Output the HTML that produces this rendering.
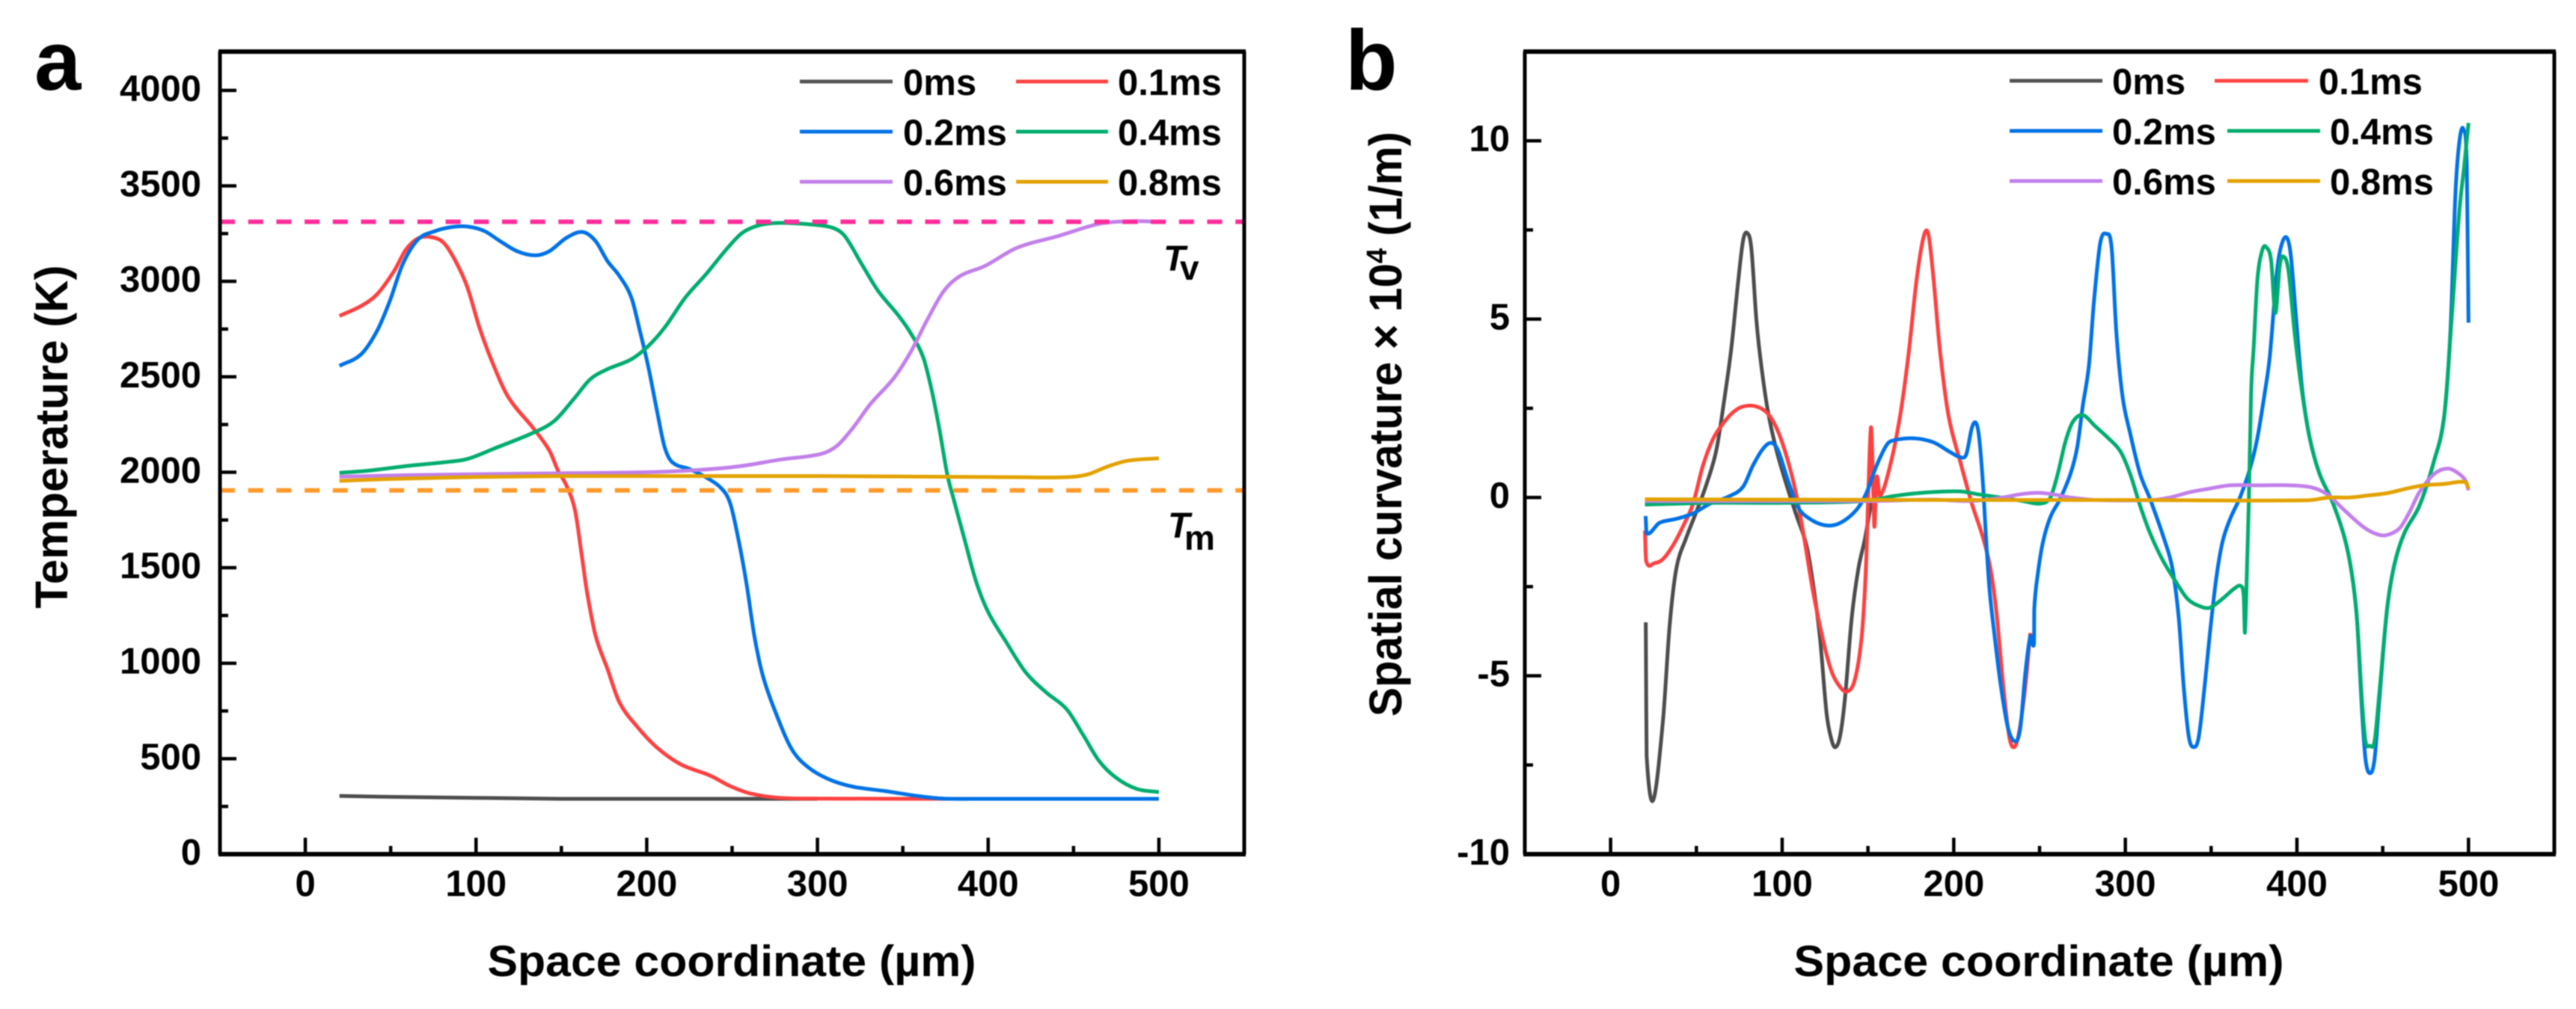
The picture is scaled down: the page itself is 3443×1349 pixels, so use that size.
<!DOCTYPE html>
<html lang="en">
<head>
<meta charset="utf-8">
<title>Temperature and spatial curvature profiles</title>
<style>
  html, body { margin: 0; padding: 0; background: #fff; }
  #figure { display: block; width: 3443px; height: 1349px; filter: blur(0.8px); }
  text { font-family: "Liberation Sans", sans-serif; font-weight: 700; fill: #000; }
</style>
</head>
<body>
<svg id="figure" xmlns="http://www.w3.org/2000/svg" width="3443" height="1349" viewBox="0 0 3443 1349">
  <rect x="0" y="0" width="3443" height="1349" fill="#fff"/>

  <text x="46" y="120" font-size="112">a</text>
  <text x="1798" y="120" font-size="114">b</text>

  <g id="panel-a"></g>
  <g id="panel-b"></g>

  <text x="978" y="1305" font-size="58" text-anchor="middle" textLength="653" lengthAdjust="spacingAndGlyphs">Space coordinate (µm)</text>
  <text x="2725" y="1305" font-size="58" text-anchor="middle" textLength="655" lengthAdjust="spacingAndGlyphs">Space coordinate (µm)</text>
  <text transform="translate(90,584) rotate(-90)" font-size="61" text-anchor="middle" textLength="459" lengthAdjust="spacingAndGlyphs">Temperature (K)</text>
  <text transform="translate(1873,567) rotate(-90)" font-size="61" text-anchor="middle" textLength="782" lengthAdjust="spacingAndGlyphs">Spatial curvature × 10<tspan font-size="38" dy="-20">4</tspan><tspan dy="20"> (1/m)</tspan></text>

  <g font-size="49">
    <line x1="1069" x2="1193" y1="109" y2="109" stroke="#555" stroke-width="5"/>
    <text x="1207" y="127">0ms</text>
    <line x1="1358" x2="1481" y1="109" y2="109" stroke="#ff4545" stroke-width="5"/>
    <text x="1494" y="127">0.1ms</text>
    <line x1="1069" x2="1193" y1="176" y2="176" stroke="#0072e6" stroke-width="5"/>
    <text x="1207" y="194">0.2ms</text>
    <line x1="1358" x2="1481" y1="176" y2="176" stroke="#00ad6e" stroke-width="5"/>
    <text x="1494" y="194">0.4ms</text>
    <line x1="1069" x2="1193" y1="243" y2="243" stroke="#c280ea" stroke-width="5"/>
    <text x="1207" y="261">0.6ms</text>
    <line x1="1358" x2="1481" y1="243" y2="243" stroke="#e3a200" stroke-width="5"/>
    <text x="1494" y="261">0.8ms</text>
  </g>

  <g font-size="49">
    <line x1="2686" x2="2810" y1="108" y2="108" stroke="#555" stroke-width="5"/>
    <text x="2823" y="126">0ms</text>
    <line x1="2960" x2="3085" y1="108" y2="108" stroke="#ff4545" stroke-width="5"/>
    <text x="3099" y="126">0.1ms</text>
    <line x1="2686" x2="2810" y1="175" y2="175" stroke="#0072e6" stroke-width="5"/>
    <text x="2823" y="193">0.2ms</text>
    <line x1="2977" x2="3101" y1="175" y2="175" stroke="#00ad6e" stroke-width="5"/>
    <text x="3114" y="193">0.4ms</text>
    <line x1="2686" x2="2810" y1="242" y2="242" stroke="#c280ea" stroke-width="5"/>
    <text x="2823" y="260">0.6ms</text>
    <line x1="2977" x2="3101" y1="242" y2="242" stroke="#e3a200" stroke-width="5"/>
    <text x="3114" y="260">0.8ms</text>
  </g>

  <g>
    <text x="1555" y="362" font-size="48" font-style="italic">T</text>
    <text x="1577" y="374" font-size="46">v</text>
  </g>
  <g>
    <text x="1561" y="719" font-size="48" font-style="italic">T</text>
    <text x="1583" y="735" font-size="46">m</text>
  </g>
</svg>

<script>
const xTickLabels = [0, 100, 200, 300, 400, 500];
const xMinorTicks = [50, 150, 250, 350, 450];
const tempTickLabels = [0, 500, 1000, 1500, 2000, 2500, 3000, 3500, 4000];
const tempMinorTicks = [250, 750, 1250, 1750, 2250, 2750, 3250, 3750];
const curvTickLabels = [-10, -5, 0, 5, 10];
const curvMinorTicks = [-7.5, -2.5, 2.5, 7.5];
const vaporizationTemp = 3312;
const meltingTemp = 1905;

const seriesNames = ["0ms", "0.1ms", "0.2ms", "0.4ms", "0.6ms", "0.8ms"];
const seriesColors = ["#4d4d4d", "#ff4040", "#0072e6", "#00ad6e", "#c280ea", "#e3a200"];

/* Panel a: [space coordinate, temperature] */
const temp0ms = [[20,305],[50,300],[100,295],[150,290],[200,290],[300,290]];
const temp01ms = [[20,2819],[32.7,2871],[42,2932],[52,3054],[59,3167],[66,3225],[73.5,3232],[81,3202],[88,3106],[95,2967],[102,2758],[110,2566],[119,2392],[134,2226],[143,2113],[148,2009],[153,1930],[158,1800],[162,1560],[165,1373],[170,1145],[177,970],[184,795],[194,672],[206,558],[220,470],[237,412],[249,356],[261,317],[278,295],[302,291],[350,290],[393,290]];
const temp02ms = [[20,2557],[32.7,2618],[42,2740],[49.5,2897],[57,3089],[66,3219],[76,3263],[85.6,3284],[95,3287],[105,3263],[114,3211],[124,3158],[134.6,3136],[143,3158],[153,3228],[162.5,3258],[170,3211],[177,3106],[184,3028],[191,2915],[196,2740],[201,2549],[206,2322],[210.5,2131],[215,2052],[225,2017],[234.6,1974],[244,1913],[249,1834],[254,1636],[258.6,1408],[263,1145],[268,935],[275.5,742],[285,549],[295,452],[307,391],[321,353],[340,330],[360,303],[374,291],[398,290],[450,290],[500,290]];
const temp04ms = [[20,1997],[37.5,2009],[61.5,2035],[81,2052],[95,2070],[110,2122],[134,2209],[146,2270],[158,2392],[167,2488],[177,2540],[191,2592],[201,2662],[210.5,2758],[222.6,2915],[234.6,3036],[246.6,3167],[256,3254],[266,3294],[278,3306],[297,3297],[309,3280],[316,3237],[326,3089],[335.6,2949],[347.6,2819],[355,2723],[362,2601],[367,2427],[371.6,2218],[376,1991],[380,1852],[386,1654],[393,1426],[400,1268],[410,1119],[422,952],[434,847],[446,759],[456,619],[465,488],[475,400],[487,342],[500,325]];
const temp06ms = [[20,1977],[60,1985],[100,1990],[150,1995],[200,2000],[230,2012],[254,2031],[278,2066],[302,2096],[311.5,2139],[321,2235],[331,2357],[345,2496],[355,2636],[364,2793],[374,2949],[383.6,3028],[398,3080],[417,3176],[441,3237],[465,3301],[484.6,3315],[500,3312]];
const temp08ms = [[20,1955],[50,1965],[100,1975],[150,1980],[300,1980],[400,1975],[417,1974],[446,1974],[458,1988],[470,2030],[482,2061],[500,2073]];

/* Panel b: [space coordinate, curvature x 10^4] */
const curv0ms = [[20.5,-3.5],[20.7,-5.2],[21,-7.24],[24.8,-8.49],[30.5,-6.27],[34.4,-3.6],[38.3,-2],[44,-1.14],[50,-0.4],[55.8,0.36],[61.6,1.32],[66.5,2.82],[70.4,4.2],[74.3,6.03],[77.2,7.2],[79.5,7.42],[82,7],[85,4.96],[87.9,3.67],[91.8,2.39],[96.7,1.32],[102.5,0.36],[108.3,-0.5],[114.2,-1.35],[118,-2.42],[122,-3.92],[125.9,-6.06],[128.8,-6.8],[131,-7],[133.7,-6.7],[136.6,-5.63],[140.5,-3.39],[144.4,-2],[148.3,-1.14],[152,-0.1]];
const curv01ms = [[20,-0.93],[20.7,-1.78],[25.6,-1.84],[30.5,-1.73],[36.3,-1.35],[42.1,-0.82],[48,-0.18],[53.8,0.89],[59.7,1.64],[65.5,2.07],[71.4,2.39],[77.2,2.55],[85,2.55],[91.8,2.34],[97.6,1.85],[103.5,1],[108.4,0.04],[113.2,-1.25],[118,-2.64],[124,-4.03],[128.8,-4.88],[133.7,-5.31],[138,-5.44],[142.4,-5.1],[146.3,-3.92],[148.8,-2],[150.2,0.14],[151.7,1.96],[152.7,0.9],[153.7,-0.82],[155,0.57],[157,0.04],[162.9,0.89],[168.7,2.28],[173.6,4],[178.4,6.13],[182.7,7.36],[185.3,7.36],[188.2,6.13],[192,4.1],[197,2.28],[203.8,1],[210.6,-0.18],[217,-1.12],[221.4,-2],[225,-3.28],[228.7,-5.2],[232.3,-6.7],[235.2,-7],[238,-6.6],[241.7,-5.3],[244.6,-3.8]];
const curv02ms = [[20.4,-0.52],[21,-1.01],[28.5,-0.71],[38.3,-0.6],[48,-0.45],[57.7,-0.18],[69.4,0.04],[77.2,0.3],[83,0.9],[88.9,1.37],[93.7,1.53],[97.6,1.32],[103.5,0.46],[109.3,-0.28],[116.1,-0.6],[123.9,-0.77],[130.7,-0.77],[137.6,-0.6],[144.4,-0.28],[149.2,0.14],[155,0.89],[161,1.48],[164.8,1.6],[176.5,1.66],[188,1.55],[198,1.27],[203.8,1.13],[207.3,1.21],[210.6,1.96],[213,2.09],[214.8,1.68],[217,0.4],[218.5,-0.87],[220.7,-2.5],[223.6,-3.8],[227.2,-5.2],[231.6,-6.46],[236,-6.84],[238.8,-6.46],[241.7,-4.93],[244.6,-3.9],[246.8,-4.1],[246.9,-3.15],[249,-2.14],[252,-1.25],[256.3,-0.55],[262,-0.04],[268,0.66],[272,1.42],[275.2,2.57],[278.8,3.71],[281.7,5.49],[285.4,7.14],[289,7.39],[292,7],[294.8,4.6],[298.4,2.82],[302.8,1.8],[308.6,0.66],[314.4,-0.04],[323.2,-1.25],[327.5,-2.01],[331.2,-3.41],[334,-5.3],[337,-6.71],[339.9,-7],[342.8,-6.71],[346.4,-5.2],[349.3,-3.8],[353,-2.26],[356.6,-1.25],[361,-0.61],[366.8,0],[372.6,0.8],[377,1.68],[381.3,2.95],[384.2,3.96],[388.5,6.4],[391.4,7.14],[394.3,7.27],[396.5,6.76],[399.4,5.1],[403,3.07],[407.4,1.68],[413.2,0.66],[420.5,-0.1],[427.7,-1.12],[432,-2.14],[435,-3.41],[437.9,-5.95],[440,-7.35],[442.6,-7.73],[445.2,-7.35],[448,-5.69],[452.5,-3.15],[456.8,-1.88],[462.6,-1],[471.4,-0.23],[480,1.04],[485.9,2.31],[489.5,4.7],[492.4,8.54],[494.9,10.06],[497.2,10.3],[499,9.3],[500,4.9]];
const curv04ms = [[20,-0.2],[60,-0.15],[100,-0.15],[149,-0.1],[164.8,0.04],[184,0.14],[203.8,0.17],[214,0.09],[228.7,-0.01],[240.3,-0.1],[250.5,-0.17],[256.3,0],[260.6,0.66],[265,1.55],[269.4,2.12],[275.2,2.31],[282.4,2],[289.7,1.68],[297,1.3],[302.8,0.66],[308.6,-0.23],[314.4,-1],[321.7,-1.75],[329,-2.33],[336.2,-2.84],[343.5,-3.05],[349.3,-3.09],[356.6,-2.84],[363.9,-2.54],[367.5,-2.49],[369,-2.77],[369.7,-3.79],[370.8,-2.14],[371.9,-0.23],[373.3,2.95],[374.8,4.2],[377,6.12],[379.9,6.95],[382.3,7.01],[385,6.63],[387.4,5.17],[390,6.5],[392,6.76],[395,6.38],[398.7,4.6],[403,2.95],[407.4,1.68],[413.2,0.66],[420.5,-0.1],[427.7,-1.12],[432,-2.14],[435,-3.41],[437.9,-5.7],[440,-6.84],[442.3,-6.96],[445.2,-6.84],[448,-5.5],[452.5,-3.15],[456.8,-1.88],[462.6,-1],[471.4,-0.23],[480,1.04],[485.9,2.31],[490.3,5.1],[494.6,8],[497.5,9.3],[500,10.5]];
const curv06ms = [[20,-0.1],[100,-0.1],[150,-0.1],[188,-0.06],[210,-0.1],[228.7,0],[238.8,0.09],[249,0.13],[257.7,0.09],[268,0],[282.4,-0.07],[316,-0.07],[326,0],[337.7,0.15],[348,0.24],[361,0.34],[377,0.34],[395.8,0.34],[408.8,0.28],[417.6,0.09],[427.7,-0.36],[438,-0.8],[445,-1],[451.7,-1.06],[459.7,-0.87],[465.5,-0.42],[471.4,0.15],[480,0.66],[488,0.81],[494.6,0.66],[498.3,0.47],[500,0.2]];
const curv08ms = [[20,-0.05],[100,-0.06],[200,-0.07],[300,-0.07],[406,-0.08],[419,0],[430.6,0],[442,0.06],[452.5,0.12],[464,0.25],[474,0.34],[486,0.38],[498.3,0.43],[500,0.25]];

const SVG_NS = "http://www.w3.org/2000/svg";

function linear(d0, d1, r0, r1) {
  return function (v) { return r0 + (v - d0) * (r1 - r0) / (d1 - d0); };
}

/* Cubic Hermite through the points using finite-difference slopes. */
function curvePath(points, sx, sy) {
  const p = points.map(function (d) { return [sx(d[0]), sy(d[1])]; });
  const n = p.length;
  const m = p.map(function (pt, i) {
    const a = p[Math.max(i - 1, 0)], c = p[Math.min(i + 1, n - 1)];
    return (c[1] - a[1]) / (c[0] - a[0]);
  });
  let out = "M" + p[0][0].toFixed(2) + " " + p[0][1].toFixed(2);
  for (let i = 0; i < n - 1; i++) {
    const b = p[i], c = p[i + 1];
    const h = (c[0] - b[0]) / 3;
    out += " C" + (b[0] + h).toFixed(2) + " " + (b[1] + m[i] * h).toFixed(2) +
           " " + (c[0] - h).toFixed(2) + " " + (c[1] - m[i + 1] * h).toFixed(2) +
           " " + c[0].toFixed(2) + " " + c[1].toFixed(2);
  }
  return out;
}

function addLine(parent, x1, y1, x2, y2, stroke, width) {
  const el = document.createElementNS(SVG_NS, "line");
  el.setAttribute("x1", x1);
  el.setAttribute("y1", y1);
  el.setAttribute("x2", x2);
  el.setAttribute("y2", y2);
  el.setAttribute("stroke", stroke);
  el.setAttribute("stroke-width", width);
  parent.appendChild(el);
  return el;
}

function addText(parent, x, y, content, anchor) {
  const el = document.createElementNS(SVG_NS, "text");
  el.setAttribute("x", x);
  el.setAttribute("y", y);
  el.setAttribute("font-size", "49");
  el.setAttribute("text-anchor", anchor);
  el.textContent = content;
  parent.appendChild(el);
  return el;
}

function drawAxes(parent, box, sx, sy, xMajor, xMinor, yMajor, yMinor, tickLabelRight) {
  const bottom = box.bottom, left = box.left, right = box.right, top = box.top;
  xMajor.forEach(function (v) {
    const tick = addLine(parent, sx(v), bottom, sx(v), bottom - 22, "#000", 4.5);
    
    
    const label = addText(parent, sx(v), 1198, String(v), "middle");
    
    
  });
  xMinor.forEach(function (v) {
    const tick = addLine(parent, sx(v), bottom, sx(v), bottom - 11, "#000", 4.5);
    
    
  });
  yMajor.forEach(function (v) {
    const tick = addLine(parent, left, sy(v), left + 22, sy(v), "#000", 4.5);
    
    
    const label = addText(parent, tickLabelRight, sy(v) + 14, String(v), "end");
    
    
  });
  yMinor.forEach(function (v) {
    const tick = addLine(parent, left, sy(v), left + 11, sy(v), "#000", 4.5);
    
    
  });
  const frameTop = addLine(parent, left - 2, top, right + 2, top, "#000", 6);
  
  
  const frameBottom = addLine(parent, left - 2, bottom, right + 2, bottom, "#000", 6);
  
  
  const frameLeft = addLine(parent, left, top, left, bottom, "#000", 5);
  
  
  const frameRight = addLine(parent, right, top, right, bottom, "#000", 5);
  
  
}

function drawSeries(parent, allSeries, sx, sy, prefix) {
  allSeries.forEach(function (points, i) {
    const el = document.createElementNS(SVG_NS, "path");
    el.setAttribute("d", curvePath(points, sx, sy));
    el.setAttribute("fill", "none");
    el.setAttribute("stroke", seriesColors[i]);
    el.setAttribute("stroke-width", "5");
    el.setAttribute("stroke-linejoin", "round");
    
    
    parent.appendChild(el);
  });
}

const panelA = document.getElementById("panel-a");
const panelB = document.getElementById("panel-b");

const boxA = { left: 294, right: 1663, top: 69, bottom: 1142 };
const sxA = linear(-50, 550, boxA.left, boxA.right);
const syA = linear(0, 4203, boxA.bottom, boxA.top);

const boxB = { left: 2038, right: 3414, top: 69, bottom: 1142 };
const sxB = linear(-50, 550, boxB.left, boxB.right);
const syB = linear(-10, 12.5, boxB.bottom, boxB.top);

drawSeries(panelA, [temp0ms, temp01ms, temp02ms, temp04ms, temp06ms, temp08ms], sxA, syA, "temperature");

const vaporLine = addLine(panelA, boxA.left, syA(vaporizationTemp), boxA.right, syA(vaporizationTemp), "#ff2d9b", 6);
vaporLine.setAttribute("stroke-dasharray", "20 17.7");



const meltLine = addLine(panelA, boxA.left, syA(meltingTemp), boxA.right, syA(meltingTemp), "#ff9a2a", 6);
meltLine.setAttribute("stroke-dasharray", "20 17.7");



drawAxes(panelA, boxA, sxA, syA, xTickLabels, xMinorTicks, tempTickLabels, tempMinorTicks, 269);

drawSeries(panelB, [curv0ms, curv01ms, curv02ms, curv04ms, curv06ms, curv08ms], sxB, syB, "curvature");
drawAxes(panelB, boxB, sxB, syB, xTickLabels, xMinorTicks, curvTickLabels, curvMinorTicks, 2018);
</script>
</body>
</html>
